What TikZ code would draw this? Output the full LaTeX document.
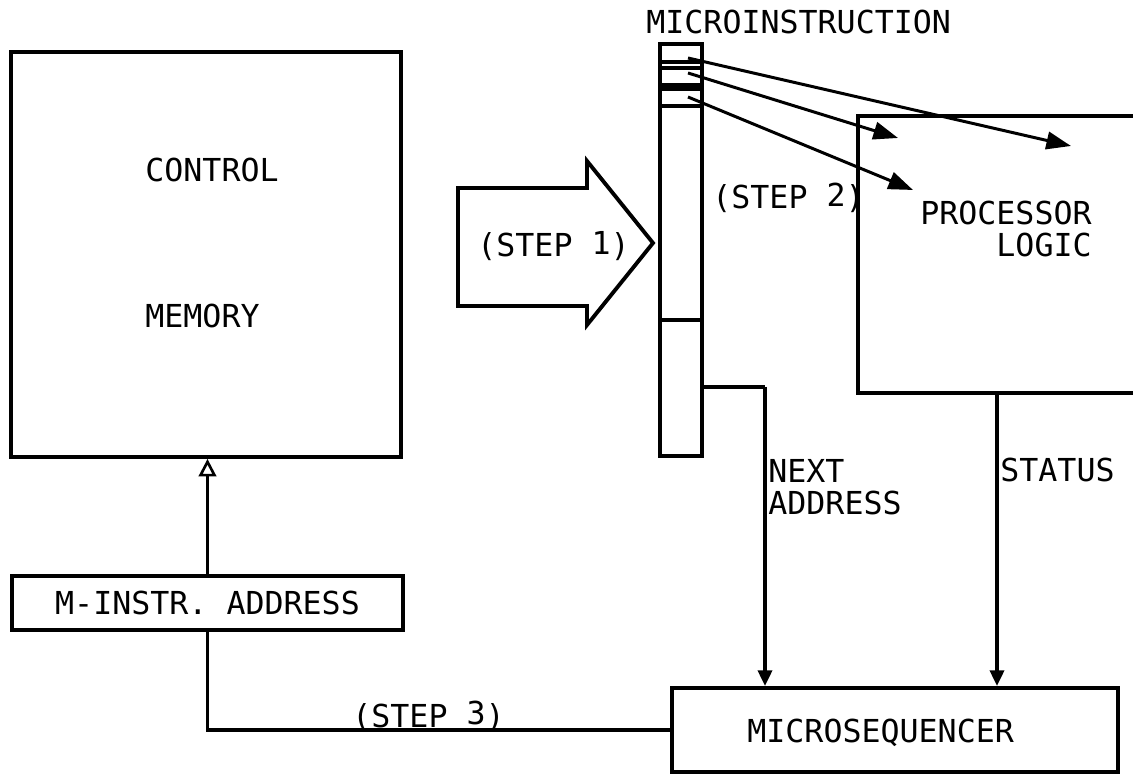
\documentclass[tikz,border=0pt]{standalone}
\usepackage{fontspec}
\setmainfont{DejaVu Sans Mono}
\usetikzlibrary{arrows.meta}
\tikzset{
  box/.style={draw, line width=2.2pt, rectangle, inner sep=0pt},
  txt/.style={inner sep=0pt, font=\fontsize{18}{22}\selectfont},
  wire/.style={line width=2pt},
  fieldarrow/.style={line width=1.7pt, -{Triangle[length=14pt,width=10pt]}},
  downarrow/.style={line width=2pt, -{Triangle[length=9pt,width=8pt]}},
  uparrow/.style={line width=2pt, -{Triangle[open,length=10pt,width=10pt,line width=1.5pt]}}
}
\newcommand{\rs}[1]{\raisebox{1.5pt}{#1}}
\begin{document}
\begin{tikzpicture}[x=0.02cm,y=-0.02cm]
\clip (0,0) rectangle (1133,776);
\fill[white] (0,0) rectangle (1133,776);

% boxes
\node[box, minimum width=7.8cm, minimum height=8.1cm] (mem) at (206,254.5) {};
\node[box, minimum width=7.82cm, minimum height=1.08cm] (minstr) at (207.5,603) {};
\node[box, minimum width=0.84cm, minimum height=8.24cm] (reg) at (681,250) {};
\node[box, minimum width=5.84cm, minimum height=5.54cm] (proc) at (1004,254.5) {};
\node[box, minimum width=8.92cm, minimum height=1.68cm] (msq) at (895,730) {};

% register fields
\draw[wire] (reg.west |- 0,62) -- (reg.east |- 0,62);
\draw[wire] (reg.west |- 0,68) -- (reg.east |- 0,68);
\draw[wire] (reg.west |- 0,85) -- (reg.east |- 0,85);
\draw[wire] (reg.west |- 0,89) -- (reg.east |- 0,89);
\draw[wire] (reg.west |- 0,106) -- (reg.east |- 0,106);
\draw[wire] (reg.west |- 0,320) -- (reg.east |- 0,320);

% step 1 block arrow
\draw[line width=2.2pt, line join=miter] (458,188) -- (587,188) -- (587,161) -- (653,243) -- (587,325) -- (587,306) -- (458,306) -- cycle;

% texts
\node[txt, anchor=base west] (tmicro) at (646,34) {MICROINSTRUCTION};
\node[txt, anchor=base west] (tcontrol) at (145,182) {CONTROL};
\node[txt, anchor=base west] (tmemory) at (145,328) {MEMORY};
\node[txt, anchor=base east] (tproc) at (1092,225) {PROCESSOR};
\node[txt, anchor=base east] (tlogic) at (1092,257) {LOGIC};
\node[txt, anchor=base west] (tstep1) at (477,257) {(STEP \rs{1})};
\node[txt, anchor=base west] (tstep2) at (712,209) {(STEP \rs{2})};
\node[txt, anchor=base west] (tstep3) at (352,727) {(STEP \rs{3})};
\node[txt, anchor=base west] (tnext) at (768,483) {NEXT};
\node[txt, anchor=base west] (taddr) at (768,515) {ADDRESS};
\node[txt, anchor=base west] (tstatus) at (1000,482) {STATUS};
\node[txt] (tminstr) at (minstr.center) {M-INSTR. ADDRESS};
\node[txt, anchor=base west] (tmsq) at (747,743) {MICROSEQUENCER};

% field arrows
\coordinate (f1) at (688,58);
\coordinate (f2) at (688,73);
\coordinate (f3) at (688,97);
\coordinate (e1) at (1071,146);
\coordinate (e2) at (898,138);
\coordinate (e3) at (913,190);
\draw[fieldarrow] (f1) -- (e1);
\draw[fieldarrow] (f2) -- (e2);
\draw[fieldarrow] (f3) -- (e3);

% next address
\coordinate (nb) at (765,387);
\draw[wire] (reg.east |- nb) -- (nb);
\draw[downarrow] (nb) -- (nb |- msq.north);

% status
\coordinate (st) at (997,0);
\draw[downarrow] (proc.south -| st) -- (st |- msq.north);

% step 3 loop
\draw[wire] (minstr.south) |- (msq.west);

% to control memory
\draw[uparrow] (minstr.north) -- (minstr.north |- mem.south);
\end{tikzpicture}
\end{document}
